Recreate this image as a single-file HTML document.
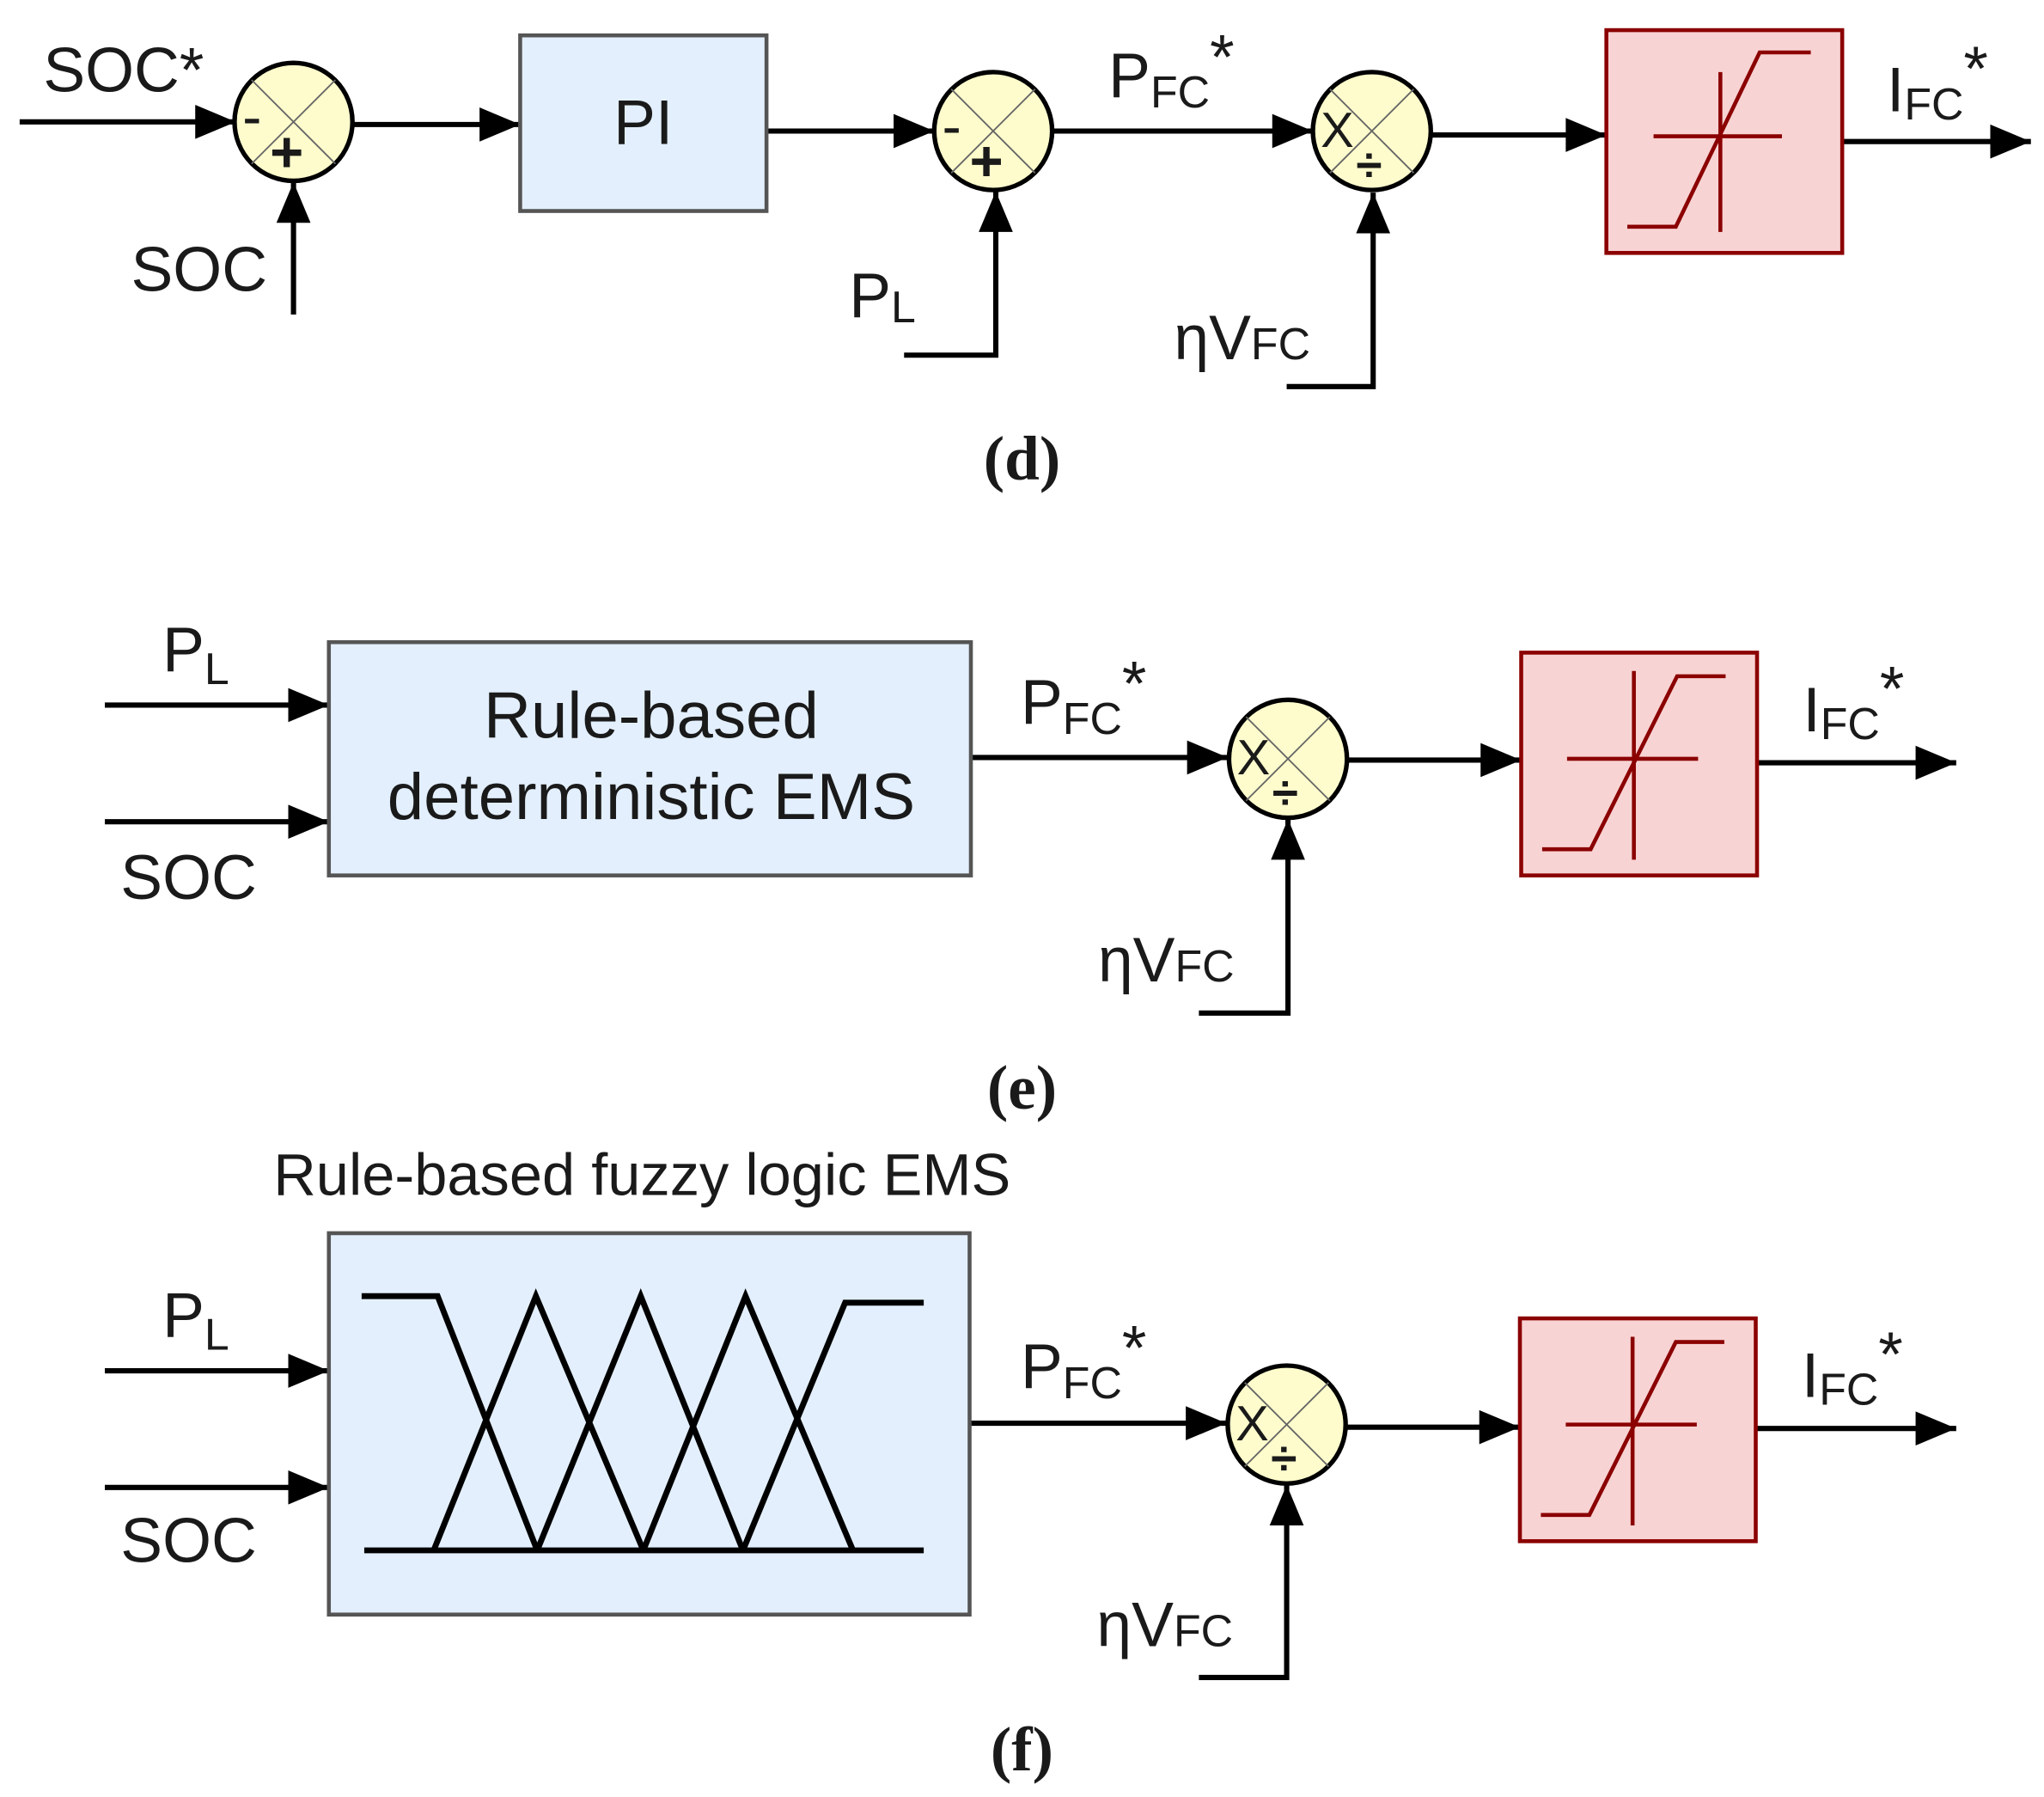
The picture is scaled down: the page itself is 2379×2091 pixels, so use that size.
<!DOCTYPE html>
<html><head><meta charset="utf-8"><style>
html,body{margin:0;padding:0;background:#fff}
svg{display:block}
text{font-family:"Liberation Sans",Arial,sans-serif;fill:#1a1a1a}
.cap{font-family:"Liberation Serif",serif;font-weight:bold}
</style></head><body>
<svg width="2379" height="2091" viewBox="0 0 1560 1371.2" preserveAspectRatio="none" xmlns="http://www.w3.org/2000/svg">
<defs>
<marker id="a" markerUnits="userSpaceOnUse" markerWidth="36" markerHeight="32" refX="33" refY="16" orient="auto">
<path d="M2,3 L33,16 L2,29 Z" fill="#000"/>
</marker>
</defs>
<g stroke="#000" stroke-width="4" fill="none">
<line x1="15" y1="93" x2="180" y2="93" marker-end="url(#a)"/>
<line x1="224" y1="240" x2="224" y2="139" marker-end="url(#a)"/>
<line x1="270" y1="95" x2="397" y2="95" marker-end="url(#a)"/>
<line x1="585" y1="100" x2="713" y2="100" marker-end="url(#a)"/>
<polyline points="690,271 760,271 760,146" marker-end="url(#a)"/>
<line x1="804" y1="100" x2="1002" y2="100" marker-end="url(#a)"/>
<polyline points="982,295 1048,295 1048,147" marker-end="url(#a)"/>
<line x1="1093" y1="103" x2="1226" y2="103" marker-end="url(#a)"/>
<line x1="1406" y1="108" x2="1550" y2="108" marker-end="url(#a)"/>
<line x1="80" y1="538" x2="251" y2="538" marker-end="url(#a)"/>
<line x1="80" y1="627" x2="251" y2="627" marker-end="url(#a)"/>
<line x1="741" y1="578" x2="937" y2="578" marker-end="url(#a)"/>
<polyline points="915,773 983,773 983,625" marker-end="url(#a)"/>
<line x1="1028" y1="580" x2="1161" y2="580" marker-end="url(#a)"/>
<line x1="1341" y1="582" x2="1493" y2="582" marker-end="url(#a)"/>
<line x1="80" y1="1046" x2="251" y2="1046" marker-end="url(#a)"/>
<line x1="80" y1="1135" x2="251" y2="1135" marker-end="url(#a)"/>
<line x1="740" y1="1086" x2="936" y2="1086" marker-end="url(#a)"/>
<polyline points="915,1280 982,1280 982,1133" marker-end="url(#a)"/>
<line x1="1027" y1="1089" x2="1160" y2="1089" marker-end="url(#a)"/>
<line x1="1340" y1="1090" x2="1493" y2="1090" marker-end="url(#a)"/>
</g>
<rect x="397" y="27" width="188" height="134" fill="#e3effd" stroke="#555" stroke-width="3"/>
<rect x="251" y="490" width="490" height="178" fill="#e3effd" stroke="#555" stroke-width="3"/>
<rect x="251" y="941" width="489" height="291" fill="#e3effd" stroke="#555" stroke-width="3"/>
<g fill="#f8d3d3" stroke="#8b0000" stroke-width="3">
<rect x="1226" y="23" width="180" height="170"/>
<rect x="1161" y="498" width="180" height="170"/>
<rect x="1160" y="1006" width="180" height="170"/>
</g>
<g stroke="#8b0000" stroke-width="3" fill="none">
<line x1="1313" y1="55" x2="1313" y2="177"/><line x1="1262" y1="104" x2="1360" y2="104"/>
<polyline points="1242,173 1279,173 1343,40 1382,40"/>
<line x1="1247" y1="512" x2="1247" y2="656"/><line x1="1196" y1="579" x2="1296" y2="579"/>
<polyline points="1177,648 1214,648 1280,516 1317,516"/>
<line x1="1246" y1="1020" x2="1246" y2="1164"/><line x1="1195" y1="1087" x2="1295" y2="1087"/>
<polyline points="1176,1156 1213,1156 1279,1024 1316,1024"/>
</g>
<g stroke="#000" stroke-width="4.5" fill="none">
<line x1="278" y1="1183" x2="705" y2="1183"/>
<polyline points="276,989 334,989 410,1183"/>
<polyline points="331,1183 409,989 491,1183"/>
<polyline points="410,1183 489,989 567,1183"/>
<polyline points="491,1183 569,989 651,1183"/>
<polyline points="567,1183 645,994 705,994"/>
</g>
<g fill="#fefccc" stroke="#000" stroke-width="3.5">
<circle cx="224" cy="93" r="45"/><circle cx="758" cy="100" r="45"/><circle cx="1047" cy="100" r="45"/>
<circle cx="983" cy="579" r="45"/><circle cx="982" cy="1087" r="45"/>
</g>
<g stroke="#666" stroke-width="1.2">
<path d="M192,61 L256,125 M256,61 L192,125"/>
<path d="M726,68 L790,132 M790,68 L726,132"/>
<path d="M1015,68 L1079,132 M1079,68 L1015,132"/>
<path d="M951,547 L1015,611 M1015,547 L951,611"/>
<path d="M950,1055 L1014,1119 M1014,1055 L950,1119"/>
</g>
<g font-size="38">
<text x="185" y="104" font-size="44">-</text><text x="206" y="131" font-size="44" font-weight="bold">+</text>
<text x="719" y="111" font-size="44">-</text><text x="740" y="138" font-size="44" font-weight="bold">+</text>
<text x="1008" y="112">X</text><text x="1035" y="138" font-size="36" font-weight="bold">÷</text>
<text x="944" y="591">X</text><text x="971" y="617" font-size="36" font-weight="bold">÷</text>
<text x="943" y="1099">X</text><text x="970" y="1125" font-size="36" font-weight="bold">÷</text>
</g>
<g font-size="48">
<text x="33" y="70">SOC*</text>
<text x="100" y="222">SOC</text>
<text x="491" y="110" text-anchor="middle">PI</text>
<text x="648" y="242">P<tspan font-size="34" dy="4">L</tspan></text>
<text x="846" y="74">P<tspan font-size="34" dy="8">FC</tspan><tspan dy="-22">*</tspan></text>
<text x="896" y="274">ηV<tspan font-size="34">FC</tspan></text>
<text x="1440" y="85">I<tspan font-size="34" dy="6">FC</tspan><tspan dy="-22">*</tspan></text>
<text x="124" y="512">P<tspan font-size="34" dy="10">L</tspan></text>
<text x="92" y="686">SOC</text>
<text x="497" y="563" text-anchor="middle" font-size="50" fill="#333">Rule-based</text>
<text x="497" y="625" text-anchor="middle" font-size="50" fill="#333">deterministic EMS</text>
<text x="779" y="552">P<tspan font-size="34" dy="8">FC</tspan><tspan dy="-22">*</tspan></text>
<text x="838" y="749">ηV<tspan font-size="34">FC</tspan></text>
<text x="1376" y="558">I<tspan font-size="34" dy="6">FC</tspan><tspan dy="-22">*</tspan></text>
<text x="490" y="912" text-anchor="middle" font-size="45">Rule-based fuzzy logic EMS</text>
<text x="124" y="1020">P<tspan font-size="34" dy="10">L</tspan></text>
<text x="92" y="1192">SOC</text>
<text x="779" y="1059">P<tspan font-size="34" dy="8">FC</tspan><tspan dy="-22">*</tspan></text>
<text x="837" y="1256">ηV<tspan font-size="34">FC</tspan></text>
<text x="1375" y="1066">I<tspan font-size="34" dy="6">FC</tspan><tspan dy="-22">*</tspan></text>
</g>
<g font-size="48" text-anchor="middle">
<text class="cap" x="780" y="366">(d)</text>
<text class="cap" x="780" y="846">(e)</text>
<text class="cap" x="780" y="1351">(f)</text>
</g>
</svg>
</body></html>
